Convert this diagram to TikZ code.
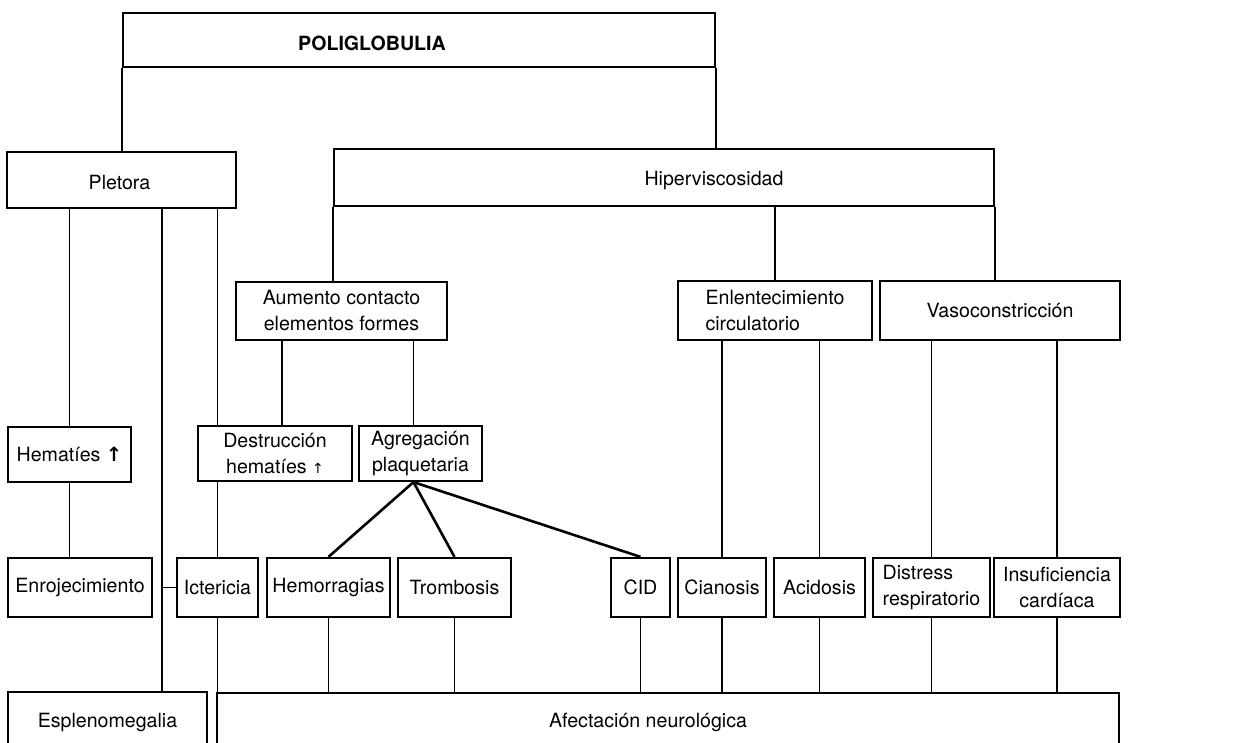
\documentclass[tikz,border=0pt]{standalone}
\usepackage{fontspec}
\setmainfont{TeX Gyre Heros}
\newfontfamily\arrowfont{DejaVu Sans}
\newcommand{\bx}{\fontsize{9.8}{13}\selectfont}
\newcommand{\uparr}{{\arrowfont\bfseries ↑}}
\newcommand{\smallarr}{{\arrowfont\fontsize{7}{7}\selectfont ↑}}
\begin{document}
\begin{tikzpicture}[x=0.5pt,y=-0.5pt,
  box/.style={draw, line width=1.1pt, inner sep=0pt, align=center, font=\bx},
  conn/.style={line width=0.9pt},
  fanline/.style={line width=1.3pt}]
\useasboundingbox (0,0) rectangle (1239,743);
\clip (0,0) rectangle (1239,743);

% top levels
\node[box, minimum width=296pt, minimum height=27pt,
  label={[font=\bx\bfseries, xshift=-23.5pt, yshift=-1.5pt]center:POLIGLOBULIA}] (poli) at (419,40) {};
\node[box, minimum width=114.5pt, minimum height=28pt,
  label={[font=\bx, xshift=-1pt, yshift=-1.5pt]center:Pletora}] (pletora) at (121.5,180) {};
\node[box, minimum width=330pt, minimum height=28.5pt,
  label={[font=\bx, xshift=25pt, yshift=-1.5pt]center:Hiperviscosidad}] (hiper) at (664,177.5) {};

% mechanisms
\node[box, minimum width=105.5pt, minimum height=29pt] (aum) at (341.5,311) {Aumento contacto\\elementos formes};
\node[box, minimum width=97pt, minimum height=29.5pt, align=left] (enl) at (775,310.5) {Enlentecimiento\\circulatorio};
\node[box, minimum width=120pt, minimum height=29.5pt] (vaso) at (1000,310.5) {Vasoconstricción};

\node[box, minimum width=61.5pt, minimum height=27.5pt] (hem) at (69.5,454.5) {Hematíes \uparr};
\node[box, minimum width=77pt, minimum height=27.5pt] (dest) at (275,453.5) {Destrucción\\hematíes \smallarr};
\node[box, minimum width=61.5pt, minimum height=27.5pt] (agr) at (420.5,453.5) {Agregación\\plaquetaria};

% consequences
\begin{scope}[every node/.append style={minimum height=29.5pt}]
\node[box, minimum width=72pt] (enro) at (80,587.5) {Enrojecimiento};
\node[box, minimum width=40.5pt] (ict) at (217.5,587.5) {Ictericia};
\node[box, minimum width=61.5pt] (hemo) at (328.5,587.5) {Hemorragias};
\node[box, minimum width=56.5pt] (trom) at (454.5,587.5) {Trombosis};
\node[box, minimum width=29.5pt] (cid) at (640.5,587.5) {CID};
\node[box, minimum width=44pt] (cian) at (722,587.5) {Cianosis};
\node[box, minimum width=45.5pt] (acid) at (819.5,587.5) {Acidosis};
\node[box, minimum width=58.5pt, align=left] (dist) at (931.5,587.5) {Distress\\respiratorio};
\node[box, minimum width=63pt] (insuf) at (1057,587.5) {Insuficiencia\\cardíaca};
\end{scope}

% open-bottomed boxes
\node[box, minimum width=99.5pt, minimum height=30pt] (esp) at (107.5,722) {Esplenomegalia};
\node[box, minimum width=450.75pt, minimum height=29pt,
  label={[font=\bx, xshift=-10pt]center:Afectación neurológica}] (afect) at (668,722) {};

% connectors from the top
\draw[conn] (poli.south west) -- (poli.south west |- pletora.north);
\draw[conn] (poli.south east) -- (poli.south east |- hiper.north);
\draw[conn] (hiper.south west) -- (hiper.south west |- aum.north);
\draw[conn] (hiper.south -| enl.north) -- (enl.north);
\draw[conn] (hiper.south east) -- (hiper.south east |- vaso.north);

% branches of Pletora
\path (pletora.south west) ++(156,0) coordinate (pl2);
\draw[conn] (pletora.south -| hem.north) -- (hem.north);
\draw[conn] (hem.south) -- (hem.south |- enro.north);
\draw[conn] (pl2) -- (pl2 |- esp.north);
\draw[conn] (pl2 |- ict.west) -- (ict.west);
\draw[conn] (pletora.south -| ict.north) -- (dest.north -| ict.north);
\draw[conn] (dest.south -| ict.north) -- (ict.north);
\draw[conn] (ict.south) -- (ict.south |- afect.north);

% branches of Aumento contacto
\draw[conn] ([xshift=3.5pt]dest.north) -- ([xshift=3.5pt]dest.north |- aum.south);
\draw[conn] ([xshift=-3.5pt]agr.north) -- ([xshift=-3.5pt]agr.north |- aum.south);
\coordinate (fan) at ([xshift=-3.5pt]agr.south);
\draw[fanline] (fan) -- (hemo.north);
\draw[fanline] (fan) -- (trom.north);
\draw[fanline] (fan) -- (cid.north);

% branches of Enlentecimiento and Vasoconstriccion
\draw[conn] (cian.north |- enl.south) -- (cian.north);
\draw[conn] (acid.north |- enl.south) -- (acid.north);
\draw[conn] (dist.north |- vaso.south) -- (dist.north);
\draw[conn] (insuf.north |- vaso.south) -- (insuf.north);

% into Afectacion neurologica
\foreach \n in {hemo,trom,cid,cian,acid,dist,insuf}
  \draw[conn] (\n.south) -- (\n.south |- afect.north);
\end{tikzpicture}
\end{document}
